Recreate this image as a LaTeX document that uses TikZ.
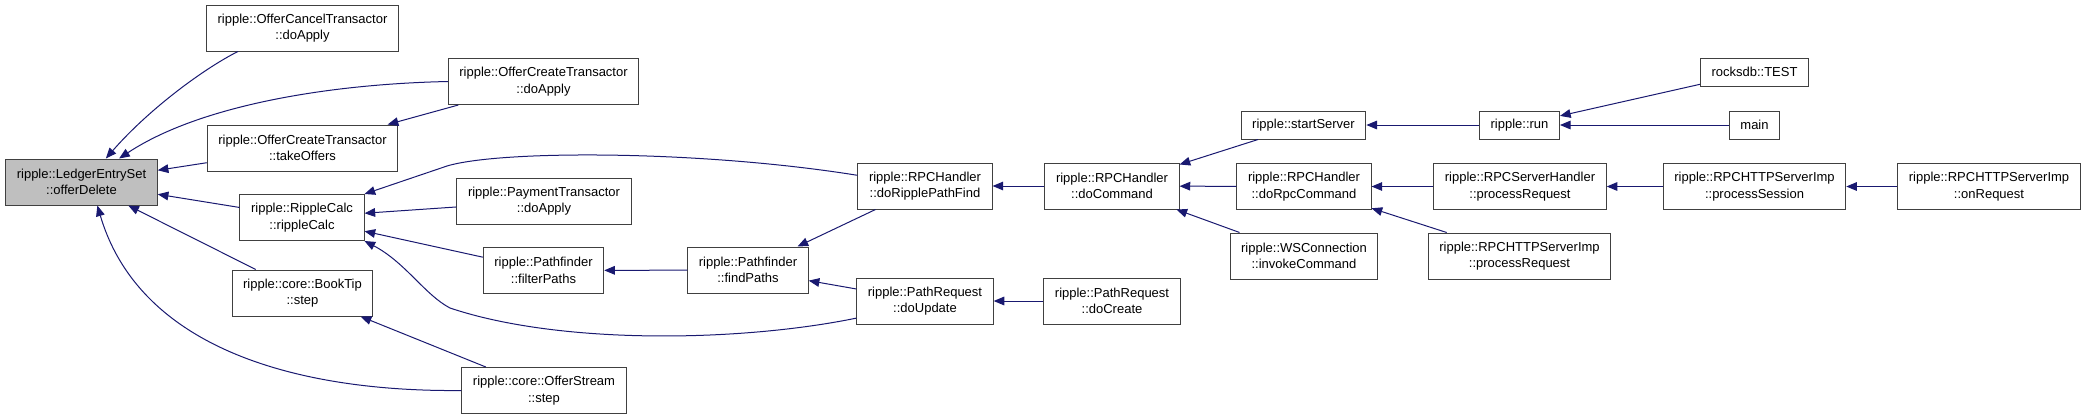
\documentclass[tikz,border=0pt]{standalone}
\usepackage{fontspec}
\setmainfont{Liberation Sans}
\usetikzlibrary{arrows.meta}
\definecolor{edgeblue}{HTML}{191970}
\definecolor{boxline}{HTML}{404040}
\definecolor{boxgray}{HTML}{BFBFBF}

\begin{document}
\begin{tikzpicture}[x=0.75pt, y=-0.75pt, >={Triangle[length=8pt,width=6.5pt]},
 font=\fontsize{9.75}{12.5}\selectfont,
 fn/.style={draw=boxline, line width=.75pt, fill=white, align=center,
 inner xsep=8.3pt, inner ysep=0pt, minimum height=34.5pt},
 fnone/.style={fn, minimum height=21pt},
 call/.style={->, draw=edgeblue, line width=.75pt}]
\useasboundingbox (0,0) rectangle (2088,419);
\node[fn,fill=boxgray] (les) at (81.5,182) {ripple::LedgerEntrySet\\::offerDelete};
\node[fn] (ocancel) at (302.5,28) {ripple::OfferCancelTransactor\\::doApply};
\node[fn] (takeoffers) at (302.5,148) {ripple::OfferCreateTransactor\\::takeOffers};
\node[fn] (ripplecalc) at (302,217.5) {ripple::RippleCalc\\::rippleCalc};
\node[fn] (booktip) at (302.5,293) {ripple::core::BookTip\\::step};
\node[fn] (ocreate) at (543.5,81.5) {ripple::OfferCreateTransactor\\::doApply};
\node[fn] (payment) at (544,201) {ripple::PaymentTransactor\\::doApply};
\node[fn] (filterpaths) at (543.5,270.5) {ripple::Pathfinder\\::filterPaths};
\node[fn] (offerstream) at (544,390.5) {ripple::core::OfferStream\\::step};
\node[fn] (findpaths) at (748,270) {ripple::Pathfinder\\::findPaths};
\node[fn] (dorpf) at (925,186) {ripple::RPCHandler\\::doRipplePathFind};
\node[fn] (doupdate) at (925,301) {ripple::PathRequest\\::doUpdate};
\node[fn] (docommand) at (1112,186) {ripple::RPCHandler\\::doCommand};
\node[fn] (docreate) at (1112,301) {ripple::PathRequest\\::doCreate};
\node[fnone] (startserver) at (1303.5,125) {ripple::startServer};
\node[fn] (dorpc) at (1304,186.5) {ripple::RPCHandler\\::doRpcCommand};
\node[fn] (wsconn) at (1304,256) {ripple::WSConnection\\::invokeCommand};
\node[fnone] (run) at (1519.5,125) {ripple::run};
\node[fn] (rpcserver) at (1520,186.5) {ripple::RPCServerHandler\\::processRequest};
\node[fn] (httpreq) at (1519.5,256) {ripple::RPCHTTPServerImp\\::processRequest};
\node[fnone] (rockstest) at (1754.5,72) {rocksdb::TEST};
\node[fnone] (mainfn) at (1754.5,125) {main};
\node[fn] (session) at (1754.5,186.5) {ripple::RPCHTTPServerImp\\::processSession};
\node[fn] (onrequest) at (1989,186.5) {ripple::RPCHTTPServerImp\\::onRequest};
% callers of offerDelete
\draw[call] (ocancel.200) .. controls (205,68) and (150,108) .. (les.44);
\draw[call] (ocreate.west) .. controls (330,84) and (200,105) .. (les.32);
\draw[call] (takeoffers) -- (les);
\draw[call] (ripplecalc) -- (les);
\draw[call] (booktip) -- (les);
\draw[call] (offerstream.west) .. controls (300,392) and (140,350) .. (les.304);
\draw[call] (ocreate) -- (takeoffers);
\draw[call] (offerstream) -- (booktip);
% callers of rippleCalc
\draw[call] (dorpf.171) .. controls (700,150) and (500,150) .. (447,166) -- (ripplecalc.north east);
\draw[call] (payment) -- (ripplecalc);
\draw[call] (filterpaths) -- (ripplecalc);
\draw[call] (doupdate.194) .. controls (740,342) and (560,345) .. (450,308)
 .. controls (425,295) and (405,262) .. (ripplecalc.south east);
\draw[call] (findpaths) -- (filterpaths);
\draw[call] (dorpf) -- (findpaths);
\draw[call] (doupdate) -- (findpaths);
\draw[call] (docommand) -- (dorpf);
\draw[call] (docreate) -- (doupdate);
% server side
\draw[call] (startserver) -- (docommand);
\draw[call] (dorpc) -- (docommand);
\draw[call] (wsconn) -- (docommand);
\draw[call] (run) -- (startserver);
\draw[call] (rockstest) -- (run);
\draw[call] (mainfn) -- (run);
\draw[call] (rpcserver) -- (dorpc);
\draw[call] (httpreq) -- (dorpc);
\draw[call] (session) -- (rpcserver);
\draw[call] (onrequest) -- (session);
\end{tikzpicture}
\end{document}
